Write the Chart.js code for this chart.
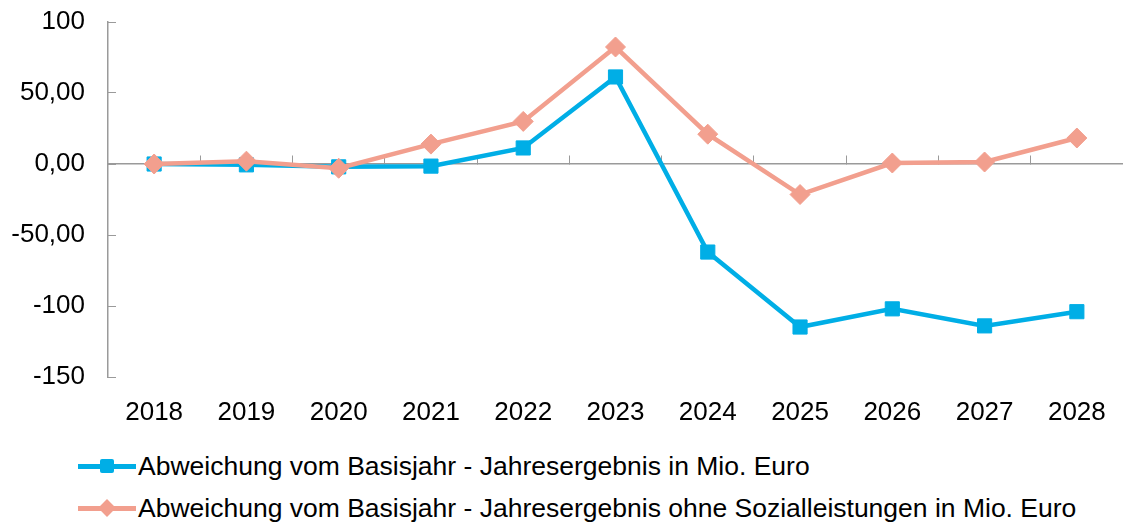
<!DOCTYPE html>
<html>
<head>
<meta charset="utf-8">
<script src="https://cdn.jsdelivr.net/npm/chart.js@4.4.1/dist/chart.umd.min.js"></script>
<style>
  html, body { margin: 0; padding: 0; background: #fff; }
  body { width: 1123px; height: 523px; position: relative; overflow: hidden; font-family: "Liberation Sans", Arial, sans-serif; }
  #wrap { position: absolute; left: 0; top: 0; width: 1123px; height: 440px; }
  #legend { position: absolute; left: 78px; top: 445px; }
  .item { display: flex; align-items: center; height: 42px; font-size: 26.5px; color: #000; white-space: nowrap; }
  .sample { position: relative; width: 58px; height: 20px; margin-right: 2px; }
  .sample .line { position: absolute; left: 0; right: 0; top: 8px; height: 5px; }
  .sample .mark { position: absolute; left: 22px; top: 3px; width: 14px; height: 14px; }
</style>
</head>
<body>
<div id="wrap"><canvas id="myChart"></canvas></div>
<div id="legend"></div>
<script>
'use strict';
// data
var years = ['2018', '2019', '2020', '2021', '2022', '2023', '2024', '2025', '2026', '2027', '2028'];
var jahresergebnis = [0, -0.6, -2, -1.5, 11.3, 61.3, -62, -114.8, -102, -114, -104];
var ohneSozialleistungen = [0, 2, -3, 14, 30, 82.4, 21, -21.5, 0.7, 1.4, 18.3];
var yTickValues = [-150, -100, -50, 0, 50, 100];
var yTickLabels = ['-150', '-100', '-50,00', '0,00', '50,00', '100'];
var seriesNames = [
  'Abweichung vom Basisjahr - Jahresergebnis in Mio. Euro',
  'Abweichung vom Basisjahr - Jahresergebnis ohne Sozialleistungen in Mio. Euro'
];

var blue = '#00AEE6';
var pink = '#F29F8E';
var axisGray = '#9a9a9a';
var tickFont = { family: '"Liberation Sans", Arial, sans-serif', size: 26 };

var ctx = document.getElementById('myChart').getContext('2d');
var chart = new Chart(ctx, {
  type: 'line',
  data: {
    labels: years,
    datasets: [{
      label: seriesNames[0],
      data: jahresergebnis,
      borderColor: blue,
      backgroundColor: blue,
      borderWidth: 4.5,
      pointStyle: 'rect',
      pointRadius: 10,
      pointBorderWidth: 1,
      order: 1,
    },
    {
      label: seriesNames[1],
      data: ohneSozialleistungen,
      borderColor: pink,
      backgroundColor: pink,
      borderWidth: 4.5,
      pointStyle: 'rectRot',
      pointRadius: 10,
      pointBorderWidth: 1,
      order: 0,
    }],
  },
  options: {
    responsive: true,
    maintainAspectRatio: false,
    animation: false,
    layout: { autoPadding: false, padding: { left: 0, right: 0, top: 22, bottom: 0 } },
    plugins: { legend: { display: false }, tooltip: { enabled: false } },
    scales: {
      x: {
        offset: true,
        grid: { display: false },
        border: { display: false },
        ticks: { font: tickFont, color: '#000', padding: 12, maxRotation: 0 },
        afterFit: function (scale) {
          scale.height = 63;
          scale.paddingLeft = 0;
          scale.paddingRight = 0;
        },
      },
      x2: {
        axis: 'x',
        type: 'category',
        position: { y: 0 },
        offset: true,
        grid: { drawOnChartArea: false, drawTicks: true, tickLength: -9, color: axisGray, offset: true },
        border: { display: true, color: axisGray, width: 1.5 },
        ticks: { display: false },
        afterFit: function (scale) {
          scale.height = 0;
          scale.paddingLeft = 0;
          scale.paddingRight = 0;
        },
      },
      y: {
        min: -150,
        max: 100,
        afterBuildTicks: function (scale) {
          scale.ticks = yTickValues.map(function (v) { return { value: v }; });
        },
        afterFit: function (scale) {
          scale.width = 108;
          scale.paddingTop = 0;
          scale.paddingBottom = 0;
        },
        grid: { drawOnChartArea: false, drawTicks: true, tickLength: -8, color: axisGray },
        border: { display: true, color: axisGray, width: 1.5 },
        ticks: {
          font: tickFont,
          color: '#000',
          padding: 31,
          callback: function (value) {
            var i = yTickValues.indexOf(value);
            return i >= 0 ? yTickLabels[i] : '';
          },
        },
      },
    },
  },
});

// legend below the chart, one entry per row
function buildLegend() {
  var legend = document.getElementById('legend');
  chart.data.datasets.forEach(function (ds) {
    var item = document.createElement('div');
    item.className = 'item';
    var sample = document.createElement('span');
    sample.className = 'sample';
    var line = document.createElement('span');
    line.className = 'line';
    line.style.background = ds.borderColor;
    var mark = document.createElement('span');
    mark.className = 'mark';
    mark.style.background = ds.borderColor;
    if (ds.pointStyle === 'rectRot') {
      mark.style.transform = 'rotate(45deg) scale(0.9)';
    } else {
      mark.style.borderRadius = '2px';
    }
    sample.appendChild(line);
    sample.appendChild(mark);
    var text = document.createElement('span');
    text.textContent = ds.label;
    item.appendChild(sample);
    item.appendChild(text);
    legend.appendChild(item);
  });
}
buildLegend();
</script>
</body>
</html>
